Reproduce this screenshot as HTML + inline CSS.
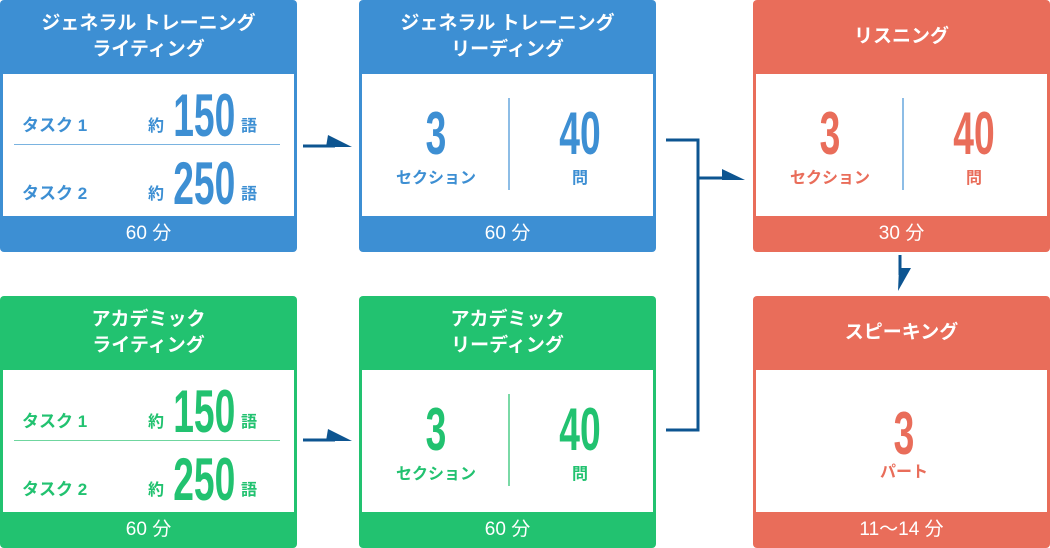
<!DOCTYPE html>
<html><head><meta charset="utf-8"><style>
body{margin:0;width:1050px;height:548px;position:relative;background:#fff;overflow:hidden;font-family:"Liberation Sans","Noto Sans CJK JP",sans-serif}
.box{position:absolute;border-radius:4px;width:297px;height:252px}
.hd{position:absolute;left:0;top:0;right:0;height:73px;color:#fff;font-weight:bold;font-size:19px;line-height:26px;text-align:center;display:flex;align-items:center;justify-content:center}
.wh{position:absolute;left:3px;right:3px;top:74px;height:142px;background:#fff}
.ft{position:absolute;left:0;right:0;top:217px;height:33px;color:#fff;font-size:19px;line-height:33px;text-align:center}
.t{position:absolute;white-space:nowrap;font-weight:bold}
.num{position:absolute;font-weight:bold;font-size:60px;line-height:60px;transform:scaleX(0.62);transform-origin:center top;text-align:center;white-space:nowrap}
.b{background:#3d8fd3}.g{background:#22c270}.r{background:#e96d5a}
.cb{color:#3d8fd3}.cg{color:#22c270}.cr{color:#e96d5a}
</style></head><body>

<!-- col1 row1 -->
<div class="box b" style="left:0;top:0">
 <div class="hd">ジェネラル トレーニング<br>ライティング</div>
 <div class="wh">
  <div class="t cb" style="left:19px;top:37px;font-size:17px">タスク 1</div>
  <div class="t cb" style="left:145px;top:38px;font-size:16px">約</div>
  <div class="num cb" style="left:155px;width:80px;top:12px">150</div>
  <div class="t cb" style="left:238px;top:38px;font-size:16px">語</div>
  <div style="position:absolute;left:11px;width:266px;top:70px;height:1px;background:#7ab3e0"></div>
  <div class="t cb" style="left:19px;top:105px;font-size:17px">タスク 2</div>
  <div class="t cb" style="left:145px;top:106px;font-size:16px">約</div>
  <div class="num cb" style="left:155px;width:80px;top:80px">250</div>
  <div class="t cb" style="left:238px;top:106px;font-size:16px">語</div>
 </div>
 <div class="ft">60 分</div>
</div>

<!-- col1 row2 -->
<div class="box g" style="left:0;top:296px">
 <div class="hd">アカデミック<br>ライティング</div>
 <div class="wh">
  <div class="t cg" style="left:19px;top:37px;font-size:17px">タスク 1</div>
  <div class="t cg" style="left:145px;top:38px;font-size:16px">約</div>
  <div class="num cg" style="left:155px;width:80px;top:12px">150</div>
  <div class="t cg" style="left:238px;top:38px;font-size:16px">語</div>
  <div style="position:absolute;left:11px;width:266px;top:70px;height:1px;background:#6fd69f"></div>
  <div class="t cg" style="left:19px;top:105px;font-size:17px">タスク 2</div>
  <div class="t cg" style="left:145px;top:106px;font-size:16px">約</div>
  <div class="num cg" style="left:155px;width:80px;top:80px">250</div>
  <div class="t cg" style="left:238px;top:106px;font-size:16px">語</div>
 </div>
 <div class="ft">60 分</div>
</div>

<!-- col2 row1 -->
<div class="box b" style="left:359px;top:0">
 <div class="hd">ジェネラル トレーニング<br>リーディング</div>
 <div class="wh">
  <div class="num cb" style="left:34px;width:80px;top:30px">3</div>
  <div class="t cb" style="left:24px;width:100px;text-align:center;top:90px;font-size:16px">セクション</div>
  <div style="position:absolute;left:146px;width:2px;top:24px;height:92px;background:#8dbde6"></div>
  <div class="num cb" style="left:178px;width:80px;top:30px">40</div>
  <div class="t cb" style="left:168px;width:100px;text-align:center;top:90px;font-size:16px">問</div>
 </div>
 <div class="ft">60 分</div>
</div>

<!-- col2 row2 -->
<div class="box g" style="left:359px;top:296px">
 <div class="hd">アカデミック<br>リーディング</div>
 <div class="wh">
  <div class="num cg" style="left:34px;width:80px;top:30px">3</div>
  <div class="t cg" style="left:24px;width:100px;text-align:center;top:90px;font-size:16px">セクション</div>
  <div style="position:absolute;left:146px;width:2px;top:24px;height:92px;background:#7ad9a6"></div>
  <div class="num cg" style="left:178px;width:80px;top:30px">40</div>
  <div class="t cg" style="left:168px;width:100px;text-align:center;top:90px;font-size:16px">問</div>
 </div>
 <div class="ft">60 分</div>
</div>

<!-- col3 row1 -->
<div class="box r" style="left:753px;top:0">
 <div class="hd">リスニング</div>
 <div class="wh">
  <div class="num cr" style="left:34px;width:80px;top:30px">3</div>
  <div class="t cr" style="left:24px;width:100px;text-align:center;top:90px;font-size:16px">セクション</div>
  <div style="position:absolute;left:146px;width:2px;top:24px;height:92px;background:#8dbde6"></div>
  <div class="num cr" style="left:178px;width:80px;top:30px">40</div>
  <div class="t cr" style="left:168px;width:100px;text-align:center;top:90px;font-size:16px">問</div>
 </div>
 <div class="ft">30 分</div>
</div>

<!-- col3 row2 -->
<div class="box r" style="left:753px;top:296px">
 <div class="hd">スピーキング</div>
 <div class="wh">
  <div class="num cr" style="left:108px;width:80px;top:34px">3</div>
  <div class="t cr" style="left:98px;width:100px;text-align:center;top:88px;font-size:16px">パート</div>
 </div>
 <div class="ft">11〜14 分</div>
</div>

<svg width="1050" height="548" style="position:absolute;left:0;top:0">
 <g stroke="#0d5591" stroke-width="3" fill="none">
  <line x1="303" y1="146" x2="335" y2="146"/>
  <line x1="303" y1="440" x2="335" y2="440"/>
  <polyline points="666,140 698,140 698,430 666,430"/>
  <line x1="698" y1="178" x2="730" y2="178"/>
  <line x1="900" y1="255" x2="900" y2="275"/>
 </g>
 <g fill="#0d5591">
  <polygon points="328,135 352,147 326,147"/>
  <polygon points="328,429 352,441 326,441"/>
  <polygon points="722,169 745,180 722,180"/>
  <polygon points="899,268 911,268 898,291"/>
 </g>
</svg>
</body></html>
